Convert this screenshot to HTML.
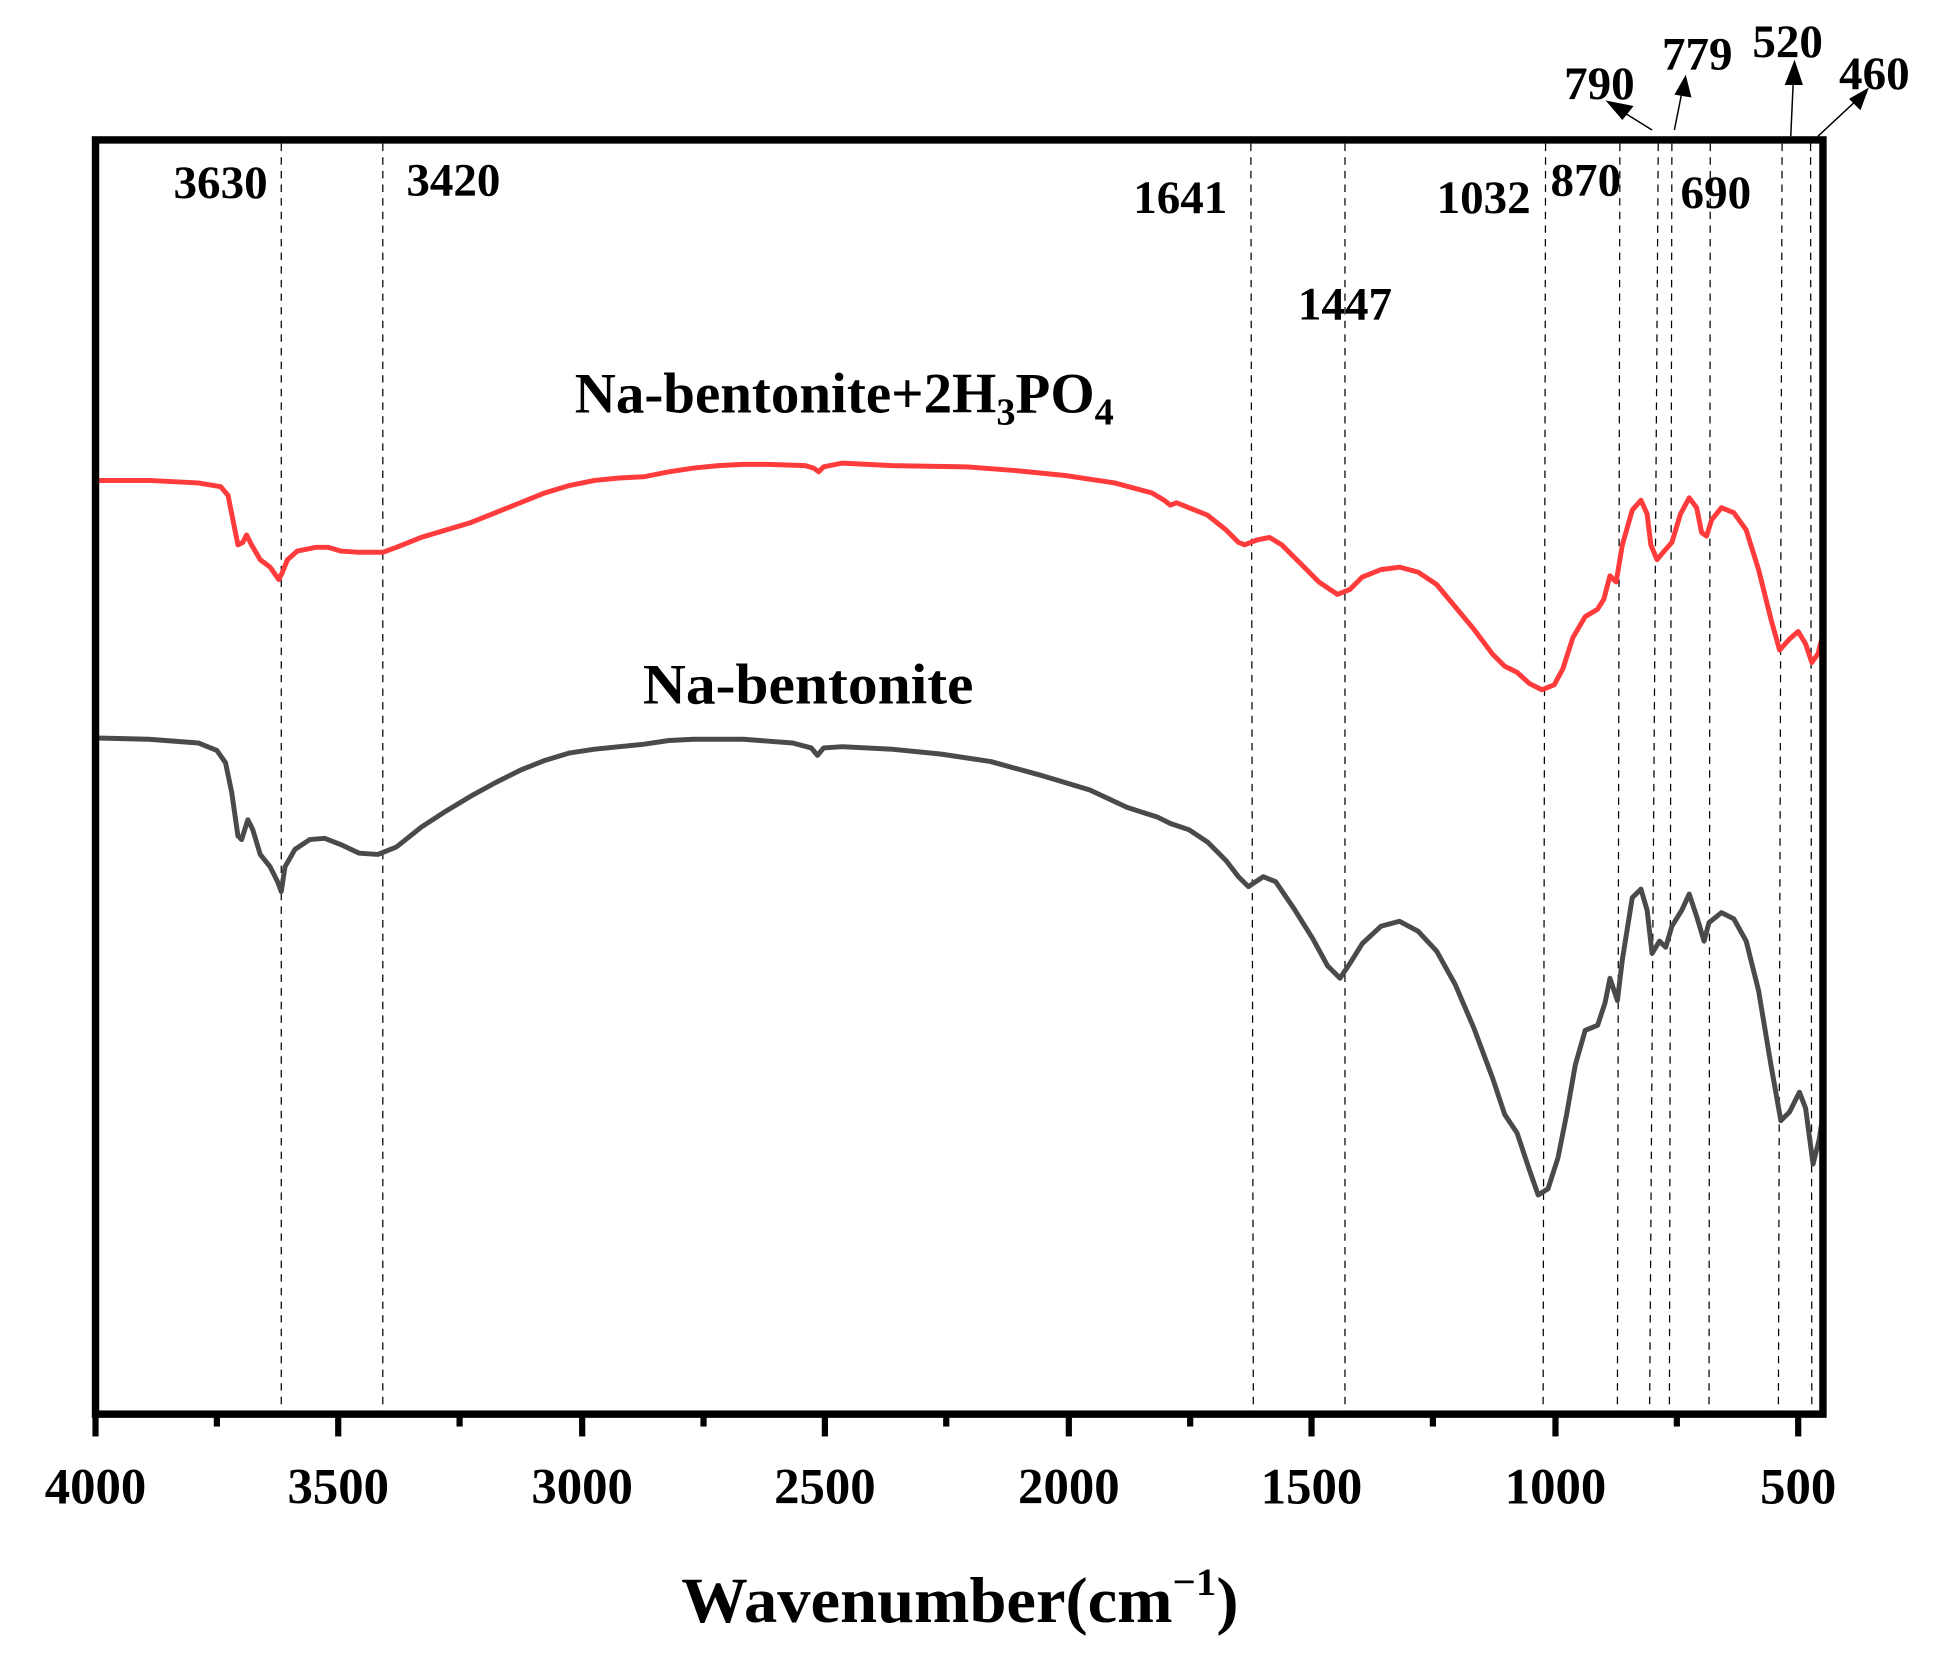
<!DOCTYPE html>
<html><head><meta charset="utf-8"><style>html,body{margin:0;padding:0;background:#fff}svg{display:block}</style></head>
<body>
<svg width="1942" height="1668" viewBox="0 0 1568 1347" xmlns="http://www.w3.org/2000/svg" font-family="Liberation Serif, serif" font-weight="bold">
<rect width="1568" height="1347" fill="#fff"/>
<g stroke="#000" stroke-width="1" stroke-dasharray="6,5" fill="none">
<line x1="227" y1="116" x2="227" y2="1140"/>
<line x1="309" y1="116" x2="309" y2="1140"/>
<line x1="1010" y1="116" x2="1012" y2="1140"/>
<line x1="1086" y1="116" x2="1086" y2="1140"/>
<line x1="1248" y1="116" x2="1246" y2="1140"/>
<line x1="1308" y1="116" x2="1306" y2="1140"/>
<line x1="1339" y1="116" x2="1332" y2="1140"/>
<line x1="1350" y1="116" x2="1348" y2="1140"/>
<line x1="1381" y1="116" x2="1380" y2="1140"/>
<line x1="1439" y1="116" x2="1436" y2="1140"/>
<line x1="1462" y1="116" x2="1463" y2="1140"/>
</g>
<polyline fill="none" stroke="#ff3b3b" stroke-width="4" stroke-linejoin="round" points="78,388 120,388 160,390 178,393 184,400 188,420 192,440 196,438 199,432 203,440 210,452 218,458 225,468 228,462 232,452 240,445 255,442 265,442 275,445 290,446 309,446 320,442 340,434 360,428 380,422 400,414 420,406 440,398 460,392 480,388 500,386 520,385 540,381 560,378 580,376 600,375 620,375 650,376 657,378 661,381 665,377 680,374 720,376 780,377 820,380 860,384 900,390 930,398 940,404 945,408 950,406 960,410 975,416 990,428 1000,438 1005,440 1015,436 1025,434 1035,440 1050,455 1065,470 1080,480 1090,476 1100,466 1115,460 1130,458 1145,462 1160,472 1175,490 1190,508 1205,528 1215,538 1225,543 1235,552 1245,557 1255,553 1262,540 1270,515 1280,498 1290,492 1295,484 1300,465 1305,470 1310,440 1318,412 1325,404 1330,415 1333,440 1338,452 1343,446 1350,438 1357,415 1364,402 1370,410 1374,430 1378,433 1382,420 1390,410 1400,414 1410,428 1420,460 1430,500 1437,525 1445,516 1452,510 1458,520 1463,535 1468,528 1472,512"/>
<polyline fill="none" stroke="#4a4a4a" stroke-width="4" stroke-linejoin="round" points="78,596 120,597 160,600 175,606 182,616 187,640 192,675 195,678 200,662 204,670 210,690 218,700 224,712 227,720 230,700 238,686 250,678 262,677 275,682 290,689 305,690 320,684 340,668 360,655 380,643 400,632 420,622 440,614 460,608 480,605 500,603 520,601 540,598 560,597 600,597 640,600 655,604 660,610 665,604 680,603 720,605 760,609 800,615 840,626 880,638 910,652 935,660 945,665 960,670 975,680 990,695 1000,708 1008,716 1020,708 1030,712 1045,734 1060,758 1072,780 1082,790 1090,778 1100,762 1115,748 1130,744 1145,752 1160,768 1175,795 1190,830 1205,870 1215,900 1225,915 1235,945 1242,965 1250,960 1258,935 1265,900 1272,860 1280,832 1290,828 1296,810 1300,790 1306,808 1310,775 1318,725 1325,718 1330,735 1334,770 1340,760 1345,765 1350,748 1358,735 1364,722 1370,740 1376,760 1380,745 1390,737 1400,742 1410,760 1420,800 1430,860 1438,905 1445,898 1453,882 1458,895 1464,940 1469,920 1472,900"/>
<rect x="77" y="113" width="1395" height="1029" fill="none" stroke="#000" stroke-width="6"/>
<g stroke="#000" stroke-width="5">
<line x1="77" y1="1142" x2="77" y2="1160"/><line x1="273" y1="1142" x2="273" y2="1160"/><line x1="470" y1="1142" x2="470" y2="1160"/><line x1="666" y1="1142" x2="666" y2="1160"/><line x1="863" y1="1142" x2="863" y2="1160"/><line x1="1059" y1="1142" x2="1059" y2="1160"/><line x1="1256" y1="1142" x2="1256" y2="1160"/><line x1="1452" y1="1142" x2="1452" y2="1160"/>
<line x1="175" y1="1142" x2="175" y2="1152"/><line x1="371" y1="1142" x2="371" y2="1152"/><line x1="568" y1="1142" x2="568" y2="1152"/><line x1="764" y1="1142" x2="764" y2="1152"/><line x1="961" y1="1142" x2="961" y2="1152"/><line x1="1157" y1="1142" x2="1157" y2="1152"/><line x1="1354" y1="1142" x2="1354" y2="1152"/>
</g>
<g font-size="41" text-anchor="middle">
<text x="77" y="1214">4000</text><text x="273" y="1214">3500</text><text x="470" y="1214">3000</text><text x="666" y="1214">2500</text><text x="863" y="1214">2000</text><text x="1059" y="1214">1500</text><text x="1256" y="1214">1000</text><text x="1452" y="1214">500</text>
</g>
<text x="550" y="1310" font-size="52" textLength="450" lengthAdjust="spacingAndGlyphs">Wavenumber(cm<tspan font-size="32" dy="-22">−1</tspan><tspan dy="22">)</tspan></text>
<g font-size="38">
<text x="140" y="160">3630</text><text x="328" y="158">3420</text><text x="915" y="172">1641</text><text x="1048" y="258">1447</text><text x="1160" y="172">1032</text><text x="1252" y="158">870</text><text x="1357" y="168">690</text>
<text x="1263" y="80">790</text><text x="1342" y="56">779</text><text x="1415" y="46">520</text><text x="1485" y="72">460</text>
</g>
<g stroke="#000" stroke-width="1.2" fill="#000">
<line x1="1334" y1="105" x2="1310" y2="90"/><polygon points="1298,82 1318,86 1310,96"/>
<line x1="1352" y1="105" x2="1358" y2="75"/><polygon points="1361,62 1365,78 1353,76"/>
<line x1="1446" y1="110" x2="1448" y2="66"/><polygon points="1449,50 1455,68 1442,68"/>
<line x1="1468" y1="110" x2="1498" y2="82"/><polygon points="1508,72 1502,88 1494,80"/>
</g>
<text x="464" y="333" font-size="46">Na-bentonite+2H<tspan font-size="31" dy="10">3</tspan><tspan dy="-10">PO</tspan><tspan font-size="31" dy="10">4</tspan></text>
<text x="519" y="568" font-size="46" textLength="267" lengthAdjust="spacingAndGlyphs">Na-bentonite</text>
</svg>
</body></html>
